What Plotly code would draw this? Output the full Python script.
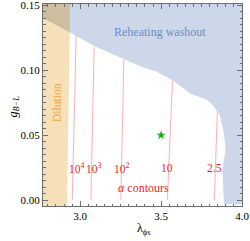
import plotly.graph_objects as go

# ---- data ----
x_range = [2.77, 4.0]
y_range = [-0.0044, 0.1508]

dilution_x = [2.77, 2.918, 2.938, 2.77]
dilution_y = [-0.0044, -0.0044, 0.1508, 0.1508]

overlap_x = [2.77, 2.935, 2.938, 2.77]
overlap_y = [0.140, 0.129, 0.1508, 0.1508]

washout_x = [2.770, 2.935, 3.080, 3.278, 3.370, 3.473, 3.575, 3.635, 3.678, 3.719,
             3.781, 3.820, 3.863, 3.881, 3.893, 3.898, 3.878, 3.889, 4.0, 4.0, 2.770]
washout_y = [0.140, 0.129, 0.119, 0.108, 0.103, 0.0987, 0.0918, 0.0862, 0.0823, 0.0802,
             0.0775, 0.0731, 0.0654, 0.0562, 0.0462, 0.0385, 0.023, -0.003, -0.003, 0.1508, 0.1508]

contour_names = ["10<sup>4</sup>", "10<sup>3</sup>", "10<sup>2</sup>", "10", "2.5"]
contour_x = [[2.951, 2.963, 2.975],
             [3.066, 3.076, 3.086],
             [3.251, 3.260, 3.270],
             [3.539, 3.555, 3.570],
             [3.829, 3.838, 3.848]]
contour_y = [[0.0, 0.065, 0.127],
             [0.0, 0.060, 0.118],
             [0.0, 0.055, 0.1085],
             [0.0, 0.046, 0.092],
             [0.0, 0.034, 0.068]]
label_x = [2.982, 3.083, 3.259, 3.539, 3.832]
label_y = 0.0246

star_x = [3.5]
star_y = [0.05]

serif = "Liberation Serif"

fig = go.Figure()

fig.add_trace(go.Scatter(x=dilution_x, y=dilution_y, fill="toself", mode="none",
                         fillcolor="rgb(246,224,185)", hoverinfo="skip", showlegend=False))
fig.add_trace(go.Scatter(x=washout_x, y=washout_y, fill="toself", mode="none",
                         fillcolor="rgb(204,216,234)", hoverinfo="skip", showlegend=False))
fig.add_trace(go.Scatter(x=overlap_x, y=overlap_y, fill="toself", mode="none",
                         fillcolor="rgb(205,190,160)", hoverinfo="skip", showlegend=False))

for cx, cy in zip(contour_x, contour_y):
    fig.add_trace(go.Scatter(x=cx, y=cy, mode="lines", line=dict(color="rgb(255,165,165)", width=0.9),
                             hoverinfo="skip", showlegend=False))

fig.add_trace(go.Scatter(x=star_x, y=star_y, mode="markers",
                         marker=dict(symbol="star", size=7, color="rgb(30,170,30)"),
                         showlegend=False))

ann = dict(showarrow=False, xanchor="center", yanchor="middle")
for name, lx in zip(contour_names, label_x):
    fig.add_annotation(x=lx, y=label_y, text=name,
                       font=dict(family=serif, size=11.5, color="rgb(240,30,30)"), **ann)
fig.add_annotation(x=3.394, y=0.0092, text="<i>α</i> contours",
                   font=dict(family=serif, size=12, color="rgb(240,30,30)"), **ann)
fig.add_annotation(x=3.493, y=0.129, text="Reheating washout",
                   font=dict(family=serif, size=12, color="rgb(110,140,195)"), **ann)
fig.add_annotation(x=2.852, y=0.075, text="Dilution", textangle=-90,
                   font=dict(family=serif, size=11.5, color="rgb(235,165,60)"), **ann)

fig.add_annotation(xref="paper", yref="paper", x=0.507, y=-0.115, text="λ<sub>ϕs</sub>",
                   font=dict(family=serif, size=12, color="black"), **ann)
fig.add_annotation(xref="paper", yref="paper", x=-0.148, y=0.49,
                   text="<i>g</i><sub><i>B−L</i></sub>", textangle=-90,
                   font=dict(family=serif, size=12, color="black"), **ann)

axis_common = dict(showgrid=False, zeroline=False, showline=True, linecolor="rgb(110,110,110)",
                   linewidth=1, mirror="allticks", ticks="inside", ticklen=5,
                   tickcolor="rgb(110,110,110)", automargin=False, ticklabeloverflow="allow",
                   tickfont=dict(family=serif, size=11, color="black"))

fig.update_xaxes(range=x_range, tickvals=[3.0, 3.5, 4.0], tickformat=".1f",
                 minor=dict(dtick=0.05, tick0=3.0, ticks="inside", ticklen=2.5,
                            tickcolor="rgb(110,110,110)"),
                 **axis_common)
fig.update_yaxes(range=y_range, tickvals=[0.0, 0.05, 0.10, 0.15], tickformat=".2f",
                 minor=dict(dtick=0.005, tick0=0.0, ticks="inside", ticklen=2.5,
                            tickcolor="rgb(110,110,110)"),
                 **axis_common)

fig.update_layout(width=250, height=241, margin=dict(l=43, r=8, t=4, b=35),
                  paper_bgcolor="white", plot_bgcolor="white")

fig.write_html("out.html", config={"displayModeBar": False},
               post_script="document.body.style.margin='0px';document.body.style.overflow='hidden';")
